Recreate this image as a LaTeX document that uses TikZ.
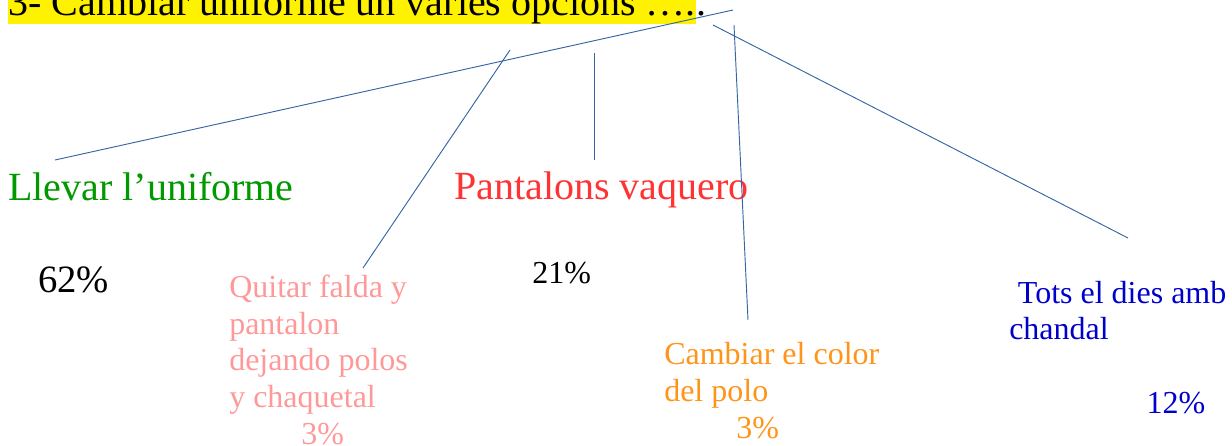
\documentclass[tikz,border=0pt]{standalone}
\usepackage{fontspec}
\setmainfont{Liberation Serif}
\usepackage{tikz}

\definecolor{lineblue}{HTML}{3465A4}
\definecolor{llevargreen}{HTML}{009A00}
\definecolor{vaqred}{HTML}{FF3333}
\definecolor{faldapink}{HTML}{FF9999}
\definecolor{polorange}{HTML}{FF9419}
\definecolor{chandblue}{HTML}{0000CC}

\tikzset{
  txt/.style={anchor=base west, inner sep=0pt, align=left},
  big/.style={font=\fontsize{30}{36}\selectfont},
  small/.style={font=\fontsize{24}{27.5}\selectfont},
  branch/.style={lineblue, line width=0.7pt}
}

\begin{document}
\begin{tikzpicture}[x=0.75pt,y=-0.75pt]
\useasboundingbox (0,0) rectangle (1232,446);

\node[txt, big, fill=yellow] (title) at (8,15) {3- Cambiar uniforme un varies opcions ….};
\node[txt, big] (dot) at (title.base east) {.};

\node[txt, big, llevargreen] (llevar) at (8,200) {Llevar l’uniforme};
\node[txt, font=\fontsize{29}{34}\selectfont] (p62) at (38,292) {62\%};

\node[txt, big, vaqred] (vaquero) at (454,199) {Pantalons vaquero};
\node[txt, small] (p21) at (532,283) {21\%};

% multi-line nodes sit on the baseline of their last line
\node[txt, small, faldapink] (falda) at (229,444) {Quitar falda y\\pantalon\\dejando polos\\y chaquetal\\\hspace*{54pt}3\%};

\node[txt, small, polorange] (polo) at (664,438) {Cambiar el color\\del polo\\\hspace*{54pt}3\%};

\node[txt, small, chandblue] (chandal) at (1009,413) {\hspace*{6.5pt}Tots el dies amb\\chandal\\\mbox{}\\\hspace*{103pt}12\%};

\coordinate (t1) at (733,10);
\coordinate (t2) at (510,50);
\coordinate (t3) at (594,53);
\coordinate (t4) at (734,25);
\coordinate (t5) at (713,25);
\coordinate (e1) at (55,160);
\coordinate (e2) at (363,268);
\coordinate (e3) at (594,160);
\coordinate (e4) at (748,320);
\coordinate (e5) at (1128,238);

\draw[branch] (t1) -- (e1);
\draw[branch] (t2) -- (e2);
\draw[branch] (t3) -- (e3);
\draw[branch] (t4) -- (e4);
\draw[branch] (t5) -- (e5);

\end{tikzpicture}
\end{document}
